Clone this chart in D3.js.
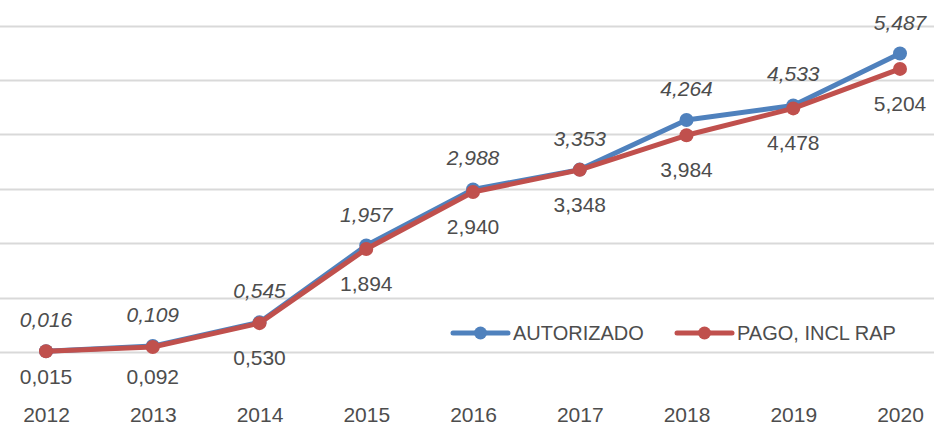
<!DOCTYPE html>
<html>
<head>
<meta charset="utf-8">
<script src="https://cdn.jsdelivr.net/npm/d3@7"></script>
<style>
  body { margin: 0; background: #fff; }
  text { font-family: "Liberation Sans", Arial, sans-serif; fill: #4d4d4d; }
</style>
</head>
<body>
<div id="chart"></div>
<script>
// data
let years = ["2012", "2013", "2014", "2015", "2016", "2017", "2018", "2019", "2020"];
let autorizado = [0.016, 0.109, 0.545, 1.957, 2.988, 3.353, 4.264, 4.533, 5.487];
let pago = [0.015, 0.092, 0.530, 1.894, 2.940, 3.348, 3.984, 4.478, 5.204];
let gridTicks = [0, 1, 2, 3, 4, 5, 6];
let seriesNames = ["AUTORIZADO", "PAGO, INCL RAP"];

let width = 934, height = 429;
let blue = "#4F81BD", red = "#C0504D";

let svg = d3.select("#chart")
    .append("svg")
    .attr("width", width)
    .attr("height", height);

let x = d3.scalePoint()
    .domain(years)
    .range([46, 900]);

let y = d3.scaleLinear()
    .domain([0, 6])
    .range([352, 25.6]);

let fmt = v => d3.format(".3f")(v).replace(".", ",");

// horizontal gridlines
svg.append("g")
    .selectAll("line")
    .data(gridTicks)
    .enter()
    .append("line")
    .attr("x1", 0)
    .attr("x2", width)
    .attr("y1", d => Math.round(y(d)) + 0.5)
    .attr("y2", d => Math.round(y(d)) + 0.5)
    .attr("stroke", "#d9d9d9")
    .attr("stroke-width", 2);

// x axis labels
let xAxis = svg.append("g")
    .attr("transform", "translate(0, 400)")
    .call(d3.axisBottom(x).tickSize(0).tickPadding(0));
xAxis.select(".domain").remove();
xAxis.selectAll("text")
    .attr("dy", 0)
    .attr("y", 22)
    .style("font-size", "21px")
    .style("font-family", "'Liberation Sans', Arial, sans-serif")
    .attr("fill", "#4d4d4d");

let line = d3.line()
    .x((d, i) => x(years[i]))
    .y(d => y(d));

function drawSeries(values, color) {
  svg.append("path")
      .datum(values)
      .attr("fill", "none")
      .attr("stroke", color)
      .attr("stroke-width", 5)
      .attr("stroke-linejoin", "round")
      .attr("d", line);

  svg.append("g")
      .selectAll("circle")
      .data(values)
      .enter()
      .append("circle")
      .attr("cx", (d, i) => x(years[i]))
      .attr("cy", d => y(d))
      .attr("r", 7)
      .attr("fill", color);
}

drawSeries(autorizado, blue);
drawSeries(pago, red);

// data labels, blue above (italic), red below
svg.append("g")
    .selectAll("text")
    .data(autorizado)
    .enter()
    .append("text")
    .attr("x", (d, i) => x(years[i]))
    .attr("y", d => y(d) - 24)
    .attr("text-anchor", "middle")
    .style("font-size", "21px")
    .style("font-style", "italic")
    .text(d => fmt(d));

svg.append("g")
    .selectAll("text")
    .data(pago)
    .enter()
    .append("text")
    .attr("x", (d, i) => x(years[i]))
    .attr("y", d => Math.min(y(d) + 35, 377) + 7)
    .attr("text-anchor", "middle")
    .style("font-size", "21px")
    .text(d => fmt(d));

// legend
let legend = svg.append("g")
    .attr("transform", "translate(453, 333)");

let legendItems = legend.selectAll("g")
    .data(seriesNames)
    .enter()
    .append("g")
    .attr("transform", (d, i) => `translate(${i * 224}, 0)`);

legendItems.append("line")
    .attr("x1", 0)
    .attr("x2", 55)
    .attr("stroke", (d, i) => i ? red : blue)
    .attr("stroke-width", 5)
    .attr("stroke-linecap", "round");

legendItems.append("circle")
    .attr("cx", 27.5)
    .attr("r", 6.5)
    .attr("fill", (d, i) => i ? red : blue);

legendItems.append("text")
    .attr("x", 60)
    .attr("y", 7)
    .style("font-size", "20px")
    .text(d => d);
</script>
</body>
</html>
